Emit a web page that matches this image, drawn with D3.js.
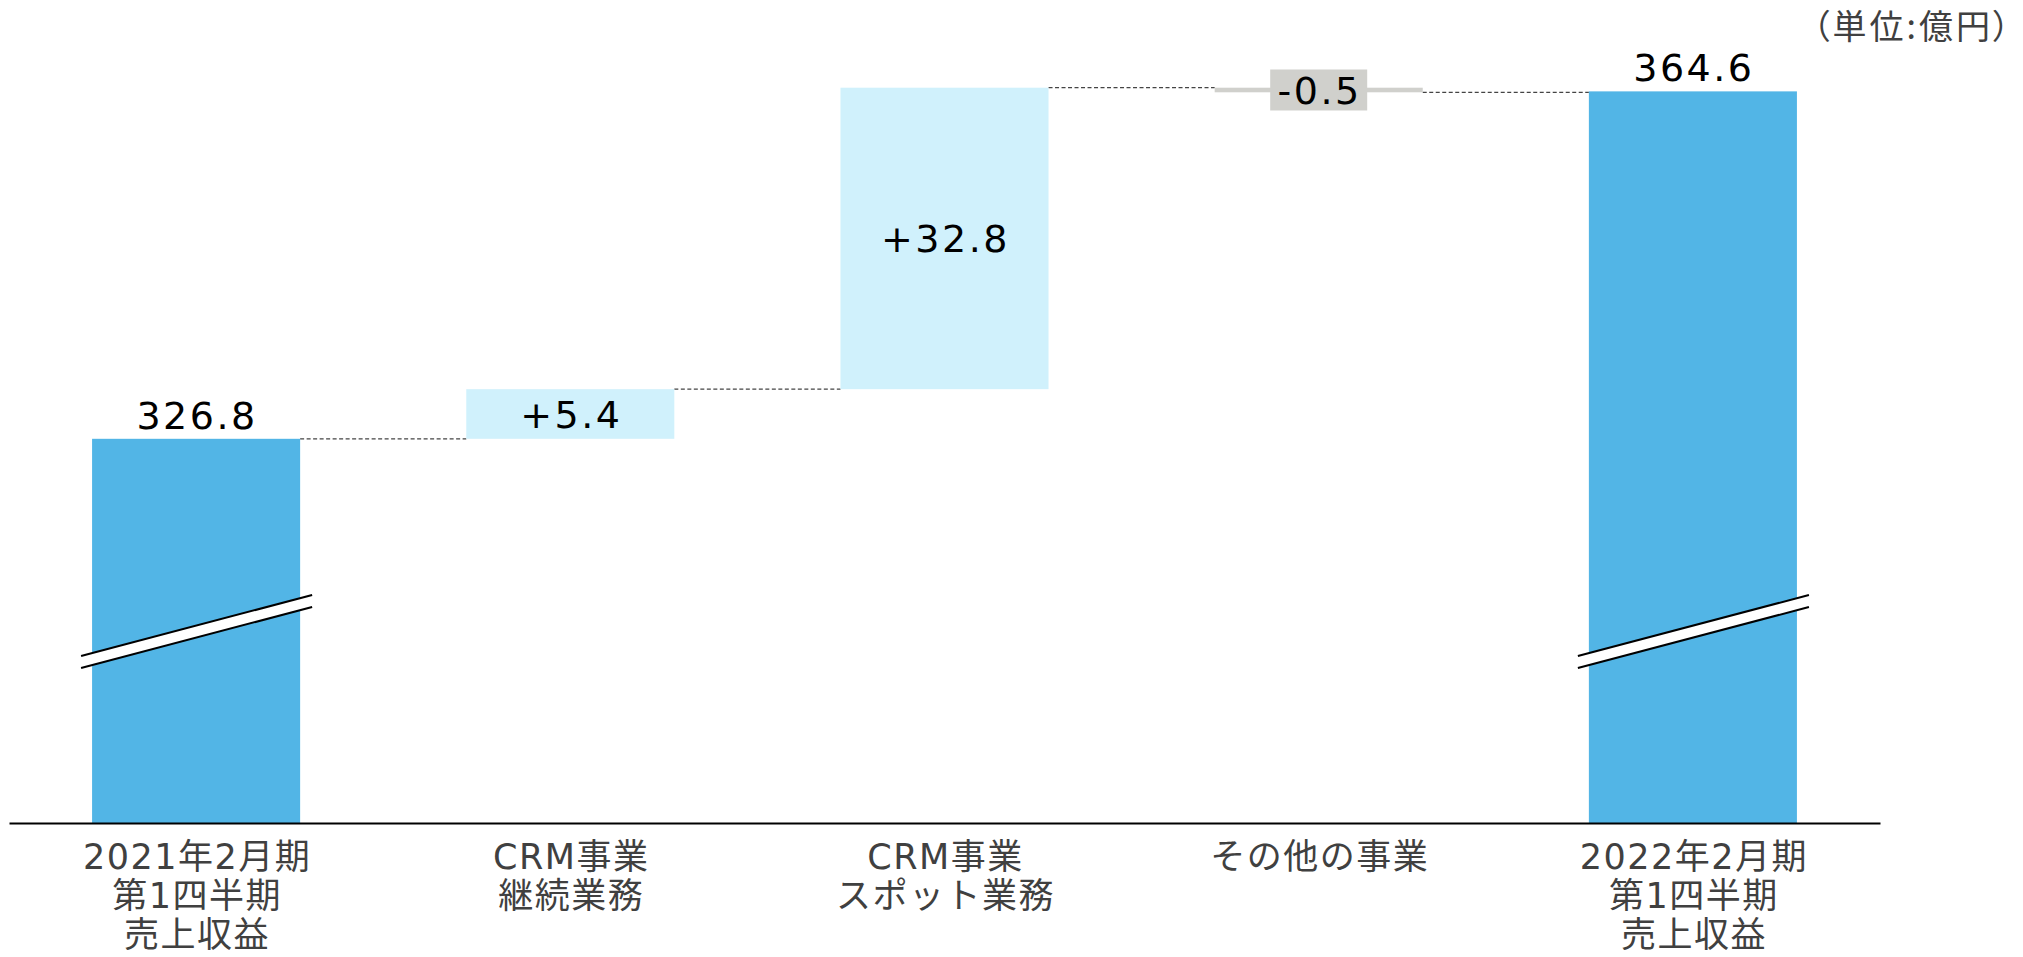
<!DOCTYPE html>
<html>
<head>
<meta charset="utf-8">
<script src="https://cdn.jsdelivr.net/npm/d3@7"></script>
<style>
    body { margin: 0; background: #fff; }
    svg { display: block; }
    .value { font-family: 'DejaVu Sans', sans-serif; font-size: 38px; letter-spacing: 2.5px; fill: #000; }
    .cat text { font-family: 'DejaVu Sans', 'Noto Sans CJK JP', sans-serif; font-size: 35px; letter-spacing: 1.5px; fill: #404040; }
    .unit { font-family: 'Noto Sans CJK JP', sans-serif; font-size: 34px; letter-spacing: 3px; fill: #404040; font-feature-settings: 'palt' 1; }
</style>
</head>
<body>
<svg></svg>
<script>
// categories, one entry per bar, split into lines
let categories = [
    ['2021年2月期', '第1四半期', '売上収益'],
    ['CRM事業', '継続業務'],
    ['CRM事業', 'スポット業務'],
    ['その他の事業'],
    ['2022年2月期', '第1四半期', '売上収益'],
];
let values = [326.8, 5.4, 32.8, -0.5, 364.6];
let kinds = ['total', 'delta', 'delta', 'delta', 'total'];
let valueLabels = ['326.8', '+5.4', '+32.8', '-0.5', '364.6'];
let unitLabel = '（単位:億円）';

let width = 2023;
let height = 957;
let baseValue = 285; // broken axis starts here

let colors = { total: '#52B5E6', up: '#D0F1FC', down: '#D0D0CC' };

let svg = d3.select('svg').attr('width', width).attr('height', height);

let xScale = d3
    .scaleBand()
    .domain(d3.range(values.length))
    .range([9, 1880])
    .paddingInner(0.444)
    .paddingOuter(0.222);

let yScale = d3.scaleLinear().domain([baseValue, 365]).range([823, 87.7]);

// running totals for the waterfall
let run = 0;
let bars = values.map((v, i) => {
    let b;
    if (kinds[i] === 'total') {
        b = { i: i, y0: baseValue, y1: v, end: v, kind: 'total' };
    } else {
        b = { i: i, y0: run, y1: run + v, end: run + v, kind: v >= 0 ? 'up' : 'down' };
    }
    run = b.end;
    return b;
});

// connectors
let links = bars.slice(0, -1);
svg.selectAll('.link')
    .data(links)
    .enter()
    .append('line')
    .attr('class', 'link')
    .attr('x1', (d) => xScale(d.i) + xScale.bandwidth())
    .attr('x2', (d) => xScale(d.i + 1))
    .attr('y1', (d) => yScale(d.end))
    .attr('y2', (d) => yScale(d.end))
    .attr('stroke', '#444')
    .attr('stroke-width', 1.2)
    .attr('stroke-dasharray', '4,2.5');

svg.selectAll('.bar')
    .data(bars)
    .enter()
    .append('rect')
    .attr('class', 'bar')
    .attr('x', (d) => xScale(d.i))
    .attr('width', xScale.bandwidth())
    .attr('y', (d) => yScale(Math.max(d.y0, d.y1)))
    .attr('height', (d) => Math.abs(yScale(d.y0) - yScale(d.y1)))
    .attr('fill', (d) => colors[d.kind]);

// axis break marks on the total bars
let breaks = bars.filter((d) => d.kind === 'total');
let brk = svg.selectAll('.brk').data(breaks).enter().append('g').attr('class', 'brk');
let bx0 = (d) => xScale(d.i) - 11;
let bx1 = (d) => xScale(d.i) + xScale.bandwidth() + 12;
brk.append('polygon')
    .attr('points', (d) => `${bx0(d)},656 ${bx1(d)},595 ${bx1(d)},607 ${bx0(d)},668`)
    .attr('fill', '#fff');
[0, 12].forEach((off) => {
    brk.append('line')
        .attr('x1', bx0)
        .attr('y1', 656 + off)
        .attr('x2', bx1)
        .attr('y2', 595 + off)
        .attr('stroke', '#000')
        .attr('stroke-width', 2);
});

// value labels
bars.forEach((d, i) => {
    let cx = xScale(d.i) + xScale.bandwidth() / 2;
    let top = yScale(Math.max(d.y0, d.y1));
    let bottom = yScale(Math.min(d.y0, d.y1));
    if (d.kind === 'total') {
        svg.append('text')
            .attr('class', 'value')
            .attr('x', cx + 1)
            .attr('y', top - 10)
            .attr('text-anchor', 'middle')
            .text(valueLabels[i]);
    } else {
        let cy = (top + bottom) / 2;
        if (bottom - top < 30) {
            svg.append('rect')
                .attr('x', cx - 48.5)
                .attr('y', cy - 20.5)
                .attr('width', 97)
                .attr('height', 41)
                .attr('fill', colors[d.kind]);
        }
        svg.append('text')
            .attr('class', 'value')
            .attr('x', cx + 1)
            .attr('y', cy + 14)
            .attr('text-anchor', 'middle')
            .text(valueLabels[i]);
    }
});

// x axis with multi-line category labels
let xAxis = d3.axisBottom(xScale).tickSize(0).tickSizeOuter(0).tickFormat('');
let gx = svg.append('g')
    .attr('class', 'cat')
    .attr('transform', 'translate(0, 823)')
    .call(xAxis);
gx.select('.domain').attr('stroke', '#000').attr('stroke-width', 2);
gx.selectAll('.tick text')
    .attr('dy', null)
    .attr('y', 0)
    .attr('font-size', null)
    .attr('font-family', null)
    .attr('fill', null)
    .each(function (d) {
        let t = d3.select(this);
        categories[d].forEach((line, k) => {
            t.append('tspan')
                .attr('x', 1)
                .attr('y', 46 + k * 39)
                .text(line);
        });
    });

svg.append('text')
    .attr('class', 'unit')
    .attr('x', 2013)
    .attr('y', 39)
    .attr('text-anchor', 'end')
    .text(unitLabel);
</script>
</body>
</html>
